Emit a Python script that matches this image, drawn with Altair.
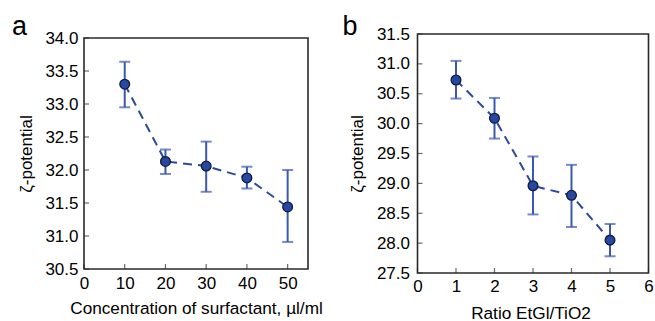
import altair as alt
import pandas as pd

# ---- data ----
a_x = [10, 20, 30, 40, 50]
a_y = [33.30, 32.13, 32.06, 31.88, 31.44]
a_lo = [32.95, 31.94, 31.67, 31.72, 30.91]
a_hi = [33.64, 32.31, 32.43, 32.05, 32.00]
a_xticks = [0, 10, 20, 30, 40, 50]
a_yticks = [30.5, 31.0, 31.5, 32.0, 32.5, 33.0, 33.5, 34.0]

b_x = [1, 2, 3, 4, 5]
b_y = [30.73, 30.09, 28.96, 28.80, 28.05]
b_lo = [30.42, 29.75, 28.48, 28.27, 27.78]
b_hi = [31.05, 30.43, 29.45, 29.31, 28.32]
b_xticks = [0, 1, 2, 3, 4, 5, 6]
b_yticks = [27.5, 28.0, 28.5, 29.0, 29.5, 30.0, 30.5, 31.0, 31.5]

FONT = "Liberation Sans"
LINE = "#2b4a9e"
EB = "#3a58b3"
FILL = "#2548a0"
FRAME = "#2a2a2a"


def panel(xs, ys, lo, hi, xdom, xticks, ydom, yticks, xtitle, letter,
          W, H, top, lx, ly, xlp, ylp, xtx, xty, ytx):
    df = pd.DataFrame({"x": xs, "y": ys, "lo": lo, "hi": hi})
    dxt = pd.DataFrame({"t": xticks})
    dyt = pd.DataFrame({"t": yticks})
    dl = pd.DataFrame({"t": [letter]})
    xs_ = alt.Scale(domain=xdom, nice=False, zero=False)
    ys_ = alt.Scale(domain=ydom, nice=False, zero=False, range=[H, top])
    xaxis = alt.Axis(values=xticks, tickCount=50, format="d", title=xtitle, grid=False,
                     domain=False, ticks=False, labelPadding=xlp, labelOverlap=False,
                     labelFont=FONT, labelFontSize=17, labelColor="black",
                     titleFont=FONT, titleFontSize=17.2, titleFontWeight="normal",
                     titleColor="black", titleX=xtx, titleY=xty,
                     titleBaseline="alphabetic", labelFlush=False)
    yaxis = alt.Axis(values=yticks, tickCount=50, format=".1f", title="ζ-potential", grid=False,
                     domain=False, ticks=False, labelPadding=ylp, labelOverlap=False,
                     labelFont=FONT, labelFontSize=17, labelColor="black",
                     titleFont=FONT, titleFontSize=17, titleFontWeight="normal",
                     titleColor="black", titleX=ytx, titleY=(H + top) / 2,
                     titleBaseline="alphabetic", titleAngle=270, labelFlush=False)
    X = alt.X("x:Q", scale=xs_, axis=xaxis)
    Y = alt.Y("y:Q", scale=ys_, axis=yaxis)

    frame = alt.Chart(dl).mark_rect(filled=False, stroke=FRAME, strokeWidth=1.6).encode(
        x=alt.datum(xdom[0], scale=xs_, axis=xaxis), x2=alt.datum(xdom[1]),
        y=alt.datum(ydom[0], scale=ys_, axis=yaxis), y2=alt.datum(ydom[1]))
    line = alt.Chart(df).mark_line(color=LINE, strokeWidth=2, strokeDash=[9, 6]).encode(x=X, y=Y)
    rule = alt.Chart(df).mark_rule(color=EB, strokeWidth=2).encode(
        x=X, y=alt.Y("lo:Q", scale=ys_, axis=yaxis), y2="hi:Q")
    cap_hi = alt.Chart(df).mark_tick(orient="horizontal", color=EB, size=11, thickness=2).encode(
        x=X, y=alt.Y("hi:Q", scale=ys_, axis=yaxis))
    cap_lo = alt.Chart(df).mark_tick(orient="horizontal", color=EB, size=11, thickness=2).encode(
        x=X, y=alt.Y("lo:Q", scale=ys_, axis=yaxis))
    pts = alt.Chart(df).mark_point(filled=True, shape="circle", size=95, fill=FILL,
                                   stroke="#15193a", strokeWidth=1.3, opacity=1).encode(x=X, y=Y)
    xt = alt.Chart(dxt).mark_tick(orient="vertical", color=FRAME, size=5, thickness=1.2,
                                  yOffset=-2.5).encode(
        x=alt.X("t:Q", scale=xs_, axis=xaxis), y=alt.datum(ydom[0]))
    yt = alt.Chart(dyt).mark_tick(orient="horizontal", color=FRAME, size=5, thickness=1.2,
                                  xOffset=2.5).encode(
        y=alt.Y("t:Q", scale=ys_, axis=yaxis), x=alt.datum(xdom[0]))
    lab = alt.Chart(dl).mark_text(font=FONT, fontSize=27, align="left",
                                  baseline="alphabetic", color="black").encode(
        text="t:N", x=alt.value(lx), y=alt.value(ly))
    return alt.layer(frame, xt, yt, line, rule, cap_hi, cap_lo, pts, lab).properties(width=W, height=H)


pa = panel(a_x, a_y, a_lo, a_hi, [0, 55], a_xticks, [30.5, 34.0], a_yticks,
           "Concentration of surfactant, µl/ml", "a",
           224, 235, 4, -72, 1, 6.6, 6, 112, 44, -53)
pb = panel(b_x, b_y, b_lo, b_hi, [0, 6], b_xticks, [27.5, 31.5], b_yticks,
           "Ratio EtGl/TiO2", "b",
           231, 239, 0, -75, 1, 5.3, 8, 113, 45, -54.7)

chart = alt.hconcat(pa, pb, spacing=19.5).properties(
    padding={"left": 12, "top": 13, "right": 0, "bottom": 0},
    background="white",
).configure_view(strokeWidth=0)

chart.save("out.html", embed_options={"renderer": "svg", "actions": False})
